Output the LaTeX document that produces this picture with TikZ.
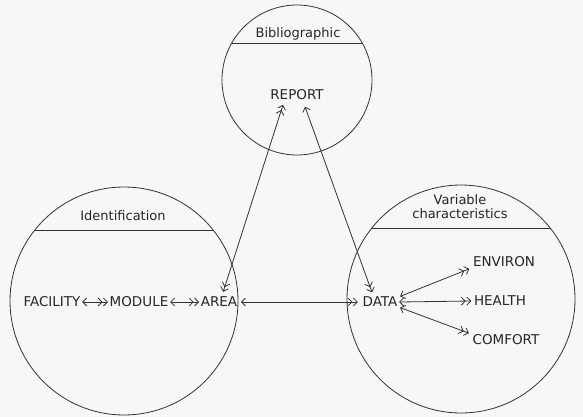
\documentclass[tikz,border=0pt]{standalone}
\usepackage{fontspec}
\setmainfont{DejaVu Sans}
\usetikzlibrary{arrows.meta}
\tikzset{
  ink/.style={draw=black!80, line width=0.8pt},
  zone/.style={ink},
  chord/.style={draw=black!80, line width=1pt},
  title/.style={font=\fontsize{13}{14}\selectfont, text=black!85, align=center, inner sep=1pt},
  ent/.style={font=\fontsize{13.5}{14}\selectfont, text=black!85, inner sep=1.5pt},
  bar/.tip={Straight Barb[length=4pt,width=8pt,line width=0.8pt]},
  lnk/.style={ink, {bar}-{bar[sep=0.5pt] bar}},
  mm/.style={ink, {bar[sep=0.5pt] bar}-{bar[sep=0.5pt] bar}},
}
\begin{document}
\begin{tikzpicture}[x=1pt,y=-1pt]
\useasboundingbox[fill=black!3] (0,0) rectangle (583,417);
% circles
\draw[zone] (297,80) circle (75);
\draw[zone] (124,301) circle (114);
\draw[zone] (461,299) circle (114);
% chords
\begin{scope}\clip (297,80) circle (75);\draw[chord] (200,44) -- (400,44);\end{scope}
\begin{scope}\clip (124,301) circle (114);\draw[chord] (0,230) -- (260,230);\end{scope}
\begin{scope}\clip (461,299) circle (114);\draw[chord] (330,228) -- (590,228);\end{scope}
% titles
\node[title] (tbib) at (298,34) {Bibliographic};
\node[title] (tid) at (123,216) {Identification};
\node[title] (tvar) at (460,207) {Variable\\characteristics};
% entities
\node[ent] (report) at (297,95) {REPORT};
\node[ent] (facility) at (52,302) {FACILITY};
\node[ent] (module) at (139,302) {MODULE};
\node[ent] (area) at (219,302) {AREA};
\node[ent] (data) at (380,302) {DATA};
\node[ent] (environ) at (504,262) {ENVIRON};
\node[ent] (health) at (500,301) {HEALTH};
\node[ent] (comfort) at (506,340) {COMFORT};
% connectors
\draw[lnk] (facility.east) -- (module.west);
\draw[lnk] (module.east) -- (area.west);
\draw[lnk] ([xshift=2pt]area.east) -- ([xshift=-3pt]data.west);
\draw[mm] ([shift={(4pt,3pt)}]area.north) -- ([shift={(-14pt,-3pt)}]report.south);
\draw[lnk] ([shift={(8pt,-5pt)}]report.south) -- ([shift={(-8pt,3pt)}]data.north);
\draw[lnk] ([shift={(1pt,-1pt)}]data.north east) -- ([xshift=-2pt]environ.south west);
\draw[lnk] (data.east) -- ([xshift=-1pt]health.west);
\draw[lnk] ([shift={(1pt,1pt)}]data.south east) -- ([xshift=-2pt]comfort.north west);
\end{tikzpicture}
\end{document}
